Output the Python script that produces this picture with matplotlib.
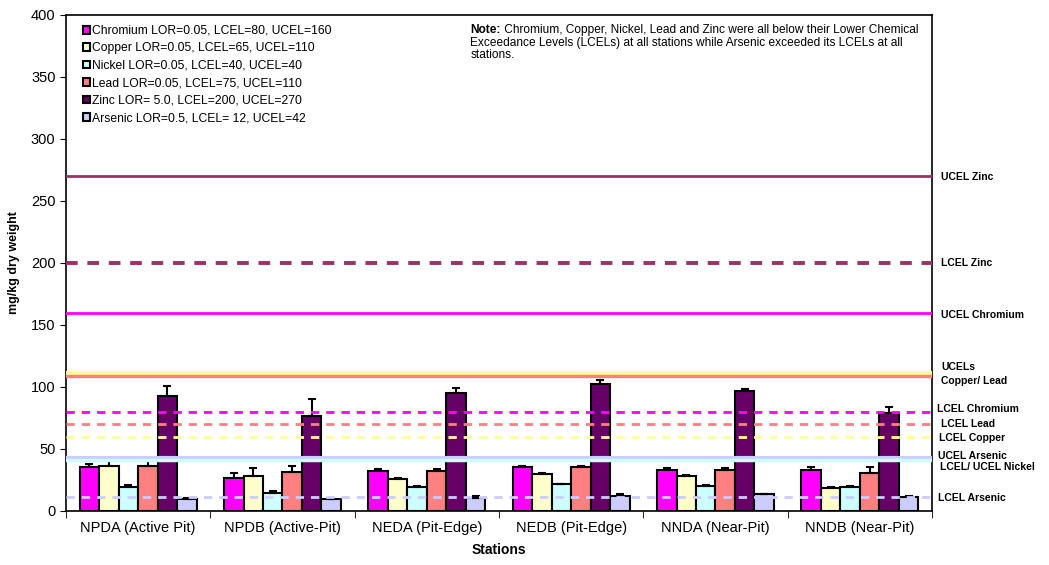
import numpy as np
import matplotlib.pyplot as plt
import matplotlib.transforms as mtransforms

plt.rcParams['font.family'] = ['Liberation Sans', 'DejaVu Sans']

# Station means and upper error bars (mg/kg dry weight)
stations = ["NPDA (Active Pit)", "NPDB (Active-Pit)", "NEDA (Pit-Edge)",
            "NEDB (Pit-Edge)", "NNDA (Near-Pit)", "NNDB (Near-Pit)"]
metals = ["Chromium LOR=0.05, LCEL=80, UCEL=160",
          "Copper LOR=0.05, LCEL=65, UCEL=110",
          "Nickel LOR=0.05, LCEL=40, UCEL=40",
          "Lead LOR=0.05, LCEL=75, UCEL=110",
          "Zinc LOR= 5.0, LCEL=200, UCEL=270",
          "Arsenic LOR=0.5, LCEL= 12, UCEL=42"]
colors = ["#FF00FF", "#FFFFCC", "#CCFFFF", "#FF8080", "#660066", "#CCCCFF"]

chromium = [35.7, 26.9, 32.5, 35.7, 33.0, 33.0]
copper = [36.5, 28.5, 25.5, 29.6, 28.5, 18.3]
nickel = [19.6, 14.2, 19.6, 21.5, 20.4, 19.6]
lead = [36.5, 31.2, 32.5, 35.2, 33.0, 30.9]
zinc = [93.0, 76.9, 95.4, 102.1, 96.8, 78.8]
arsenic = [9.4, 9.4, 10.7, 12.4, 13.4, 11.5]

chromium_err = [2.3, 4.0, 1.6, 0.8, 1.4, 2.2]
copper_err = [3.5, 6.4, 0.8, 1.4, 0.8, 1.3]
nickel_err = [1.6, 2.2, 0.8, 0.5, 0.8, 0.8]
lead_err = [3.5, 5.3, 1.6, 1.3, 1.4, 4.3]
zinc_err = [7.5, 13.7, 4.1, 3.3, 1.9, 4.8]
arsenic_err = [0.8, 0.0, 1.7, 1.6, 0.6, 0.9]

means = [chromium, copper, nickel, lead, zinc, arsenic]
errs = [chromium_err, copper_err, nickel_err, lead_err, zinc_err, arsenic_err]

# Reference levels: (value, colour, style, width)
ref_lines = [
    (270, "#993366", "-", 2.0),
    (200, "#993366", "--", 2.8),
    (160, "#FF00FF", "-", 2.0),
    (111, "#FFFF99", "-", 3.0),
    (109, "#FF8080", "-", 2.5),
    (80, "#FF00FF", "--", 2.0),
    (70, "#FF8080", "--", 2.0),
    (60, "#FFFF99", "--", 2.0),
    (43, "#CCCCFF", "-", 3.0),
    (41, "#CCFFFF", "-", 2.5),
    (11, "#CCCCFF", "--", 2.0),
]
# Right-hand labels: (y position in data units, text, x pixel)
ref_labels = [
    (269, "UCEL Zinc", 941),
    (200, "LCEL Zinc", 941),
    (158, "UCEL Chromium", 941),
    (116, "UCELs", 941),
    (105, "Copper/ Lead", 941),
    (82, "LCEL Chromium", 937),
    (70.5, "LCEL Lead", 941),
    (58.5, "LCEL Copper", 939),
    (44.5, "UCEL Arsenic", 938),
    (35.5, "LCEL/ UCEL Nickel", 940),
    (10.5, "LCEL Arsenic", 938),
]

fig = plt.figure(figsize=(10.49, 5.65), dpi=100)
ax = fig.add_axes([66 / 1049, 54 / 565, 866 / 1049, 496 / 565])

x = np.arange(len(stations))
w = 0.135
for i, (m, e) in enumerate(zip(means, errs)):
    pos = x + (i - 2.5) * w
    ax.bar(pos, m, w, color=colors[i], edgecolor="black", linewidth=1.5,
           label=metals[i], zorder=2)
    ax.errorbar(pos, m, yerr=[np.zeros(len(e)), e], fmt="none",
                ecolor="black", elinewidth=1.5, capsize=3, capthick=1.5, zorder=3)

for val, c, ls, lw in ref_lines:
    ax.axhline(val, color=c, linestyle=ls, linewidth=lw, zorder=4,
               dashes=(3, 2.5) if ls == "--" else (None, None))

ax.set_xlim(-0.5, len(stations) - 0.5)
ax.set_ylim(0, 400)

label_tf = mtransforms.blended_transform_factory(fig.transFigure, ax.transData)
for val, txt, px in ref_labels:
    ax.text(px / 1049, val, txt, transform=label_tf, fontsize=7.5,
            fontweight="bold", va="center", ha="left", clip_on=False)

ax.set_yticks(np.arange(0, 401, 50))
ax.tick_params(axis="y", labelsize=10.5, direction="out", length=4)
ax.set_xticks(x)
ax.set_xticklabels(stations, fontsize=10.5)
ax.set_xticks(np.arange(-0.5, len(stations), 1), minor=True)
ax.tick_params(axis="x", which="major", length=0, pad=7)
ax.tick_params(axis="x", which="minor", length=5, direction="out")
ax.set_xlabel("Stations", fontsize=10, fontweight="bold", labelpad=6)
ax.set_ylabel("mg/kg dry weight", fontsize=9, fontweight="bold", labelpad=8)
for s in ax.spines.values():
    s.set_linewidth(1.2)

leg = ax.legend(loc="upper left", bbox_to_anchor=(0.01, 0.997), frameon=False,
                fontsize=8.7, handlelength=0.6, handleheight=0.6, handletextpad=0.15,
                labelspacing=0.45, borderaxespad=0.3)

note = ax.text(0.467, 0.982, "Note:", transform=ax.transAxes, fontsize=8.6,
               fontweight="bold", va="top", ha="left")
ax.annotate(" Chromium, Copper, Nickel, Lead and Zinc were all below their Lower Chemical",
            xy=(1, 1), xycoords=note, fontsize=8.6, va="top", ha="left")
ax.text(0.467, 0.955,
        "Exceedance Levels (LCELs) at all stations while Arsenic exceeded its LCELs at all"
        "\nstations.",
        transform=ax.transAxes, fontsize=8.6, va="top", ha="left", linespacing=0.95)

fig.savefig("out.png", dpi=100)
